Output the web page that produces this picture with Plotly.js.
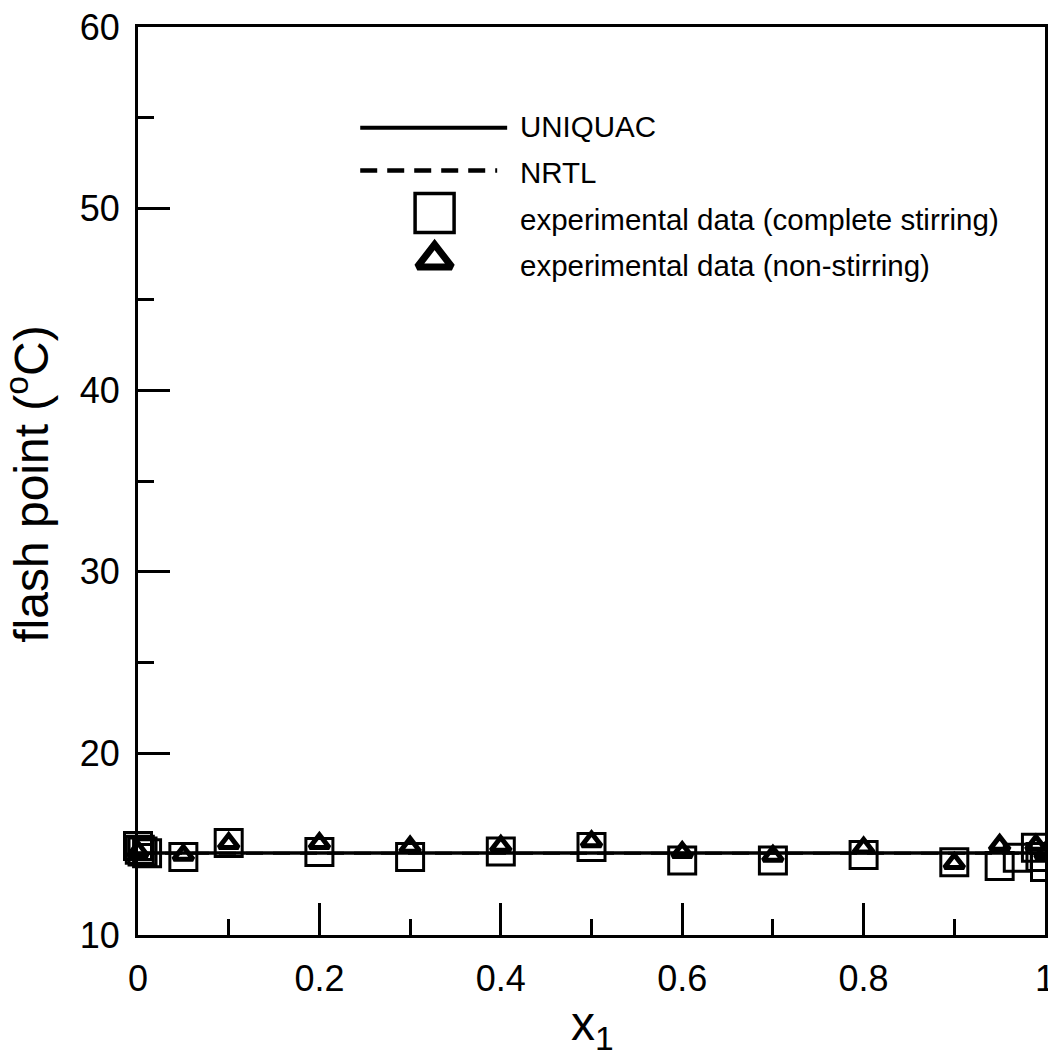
<!DOCTYPE html>
<html>
<head>
<meta charset="utf-8">
<script src="https://cdn.plot.ly/plotly-3.0.1.min.js"></script>
<style>
  html, body { margin: 0; padding: 0; background: #ffffff; }
  #chart { width: 1048px; height: 1052px; }
</style>
</head>
<body>
<div id="chart"></div>
<script>
// ---- data ----
const modelX = [0, 0.1, 0.2, 0.3, 0.4, 0.5, 0.6, 0.7, 0.8, 0.9, 1.0];
const uniquacY = [14.52, 14.52, 14.52, 14.52, 14.52, 14.52, 14.52, 14.52, 14.52, 14.52, 14.52];
const nrtlY    = [14.50, 14.50, 14.50, 14.50, 14.50, 14.50, 14.50, 14.50, 14.50, 14.50, 14.50];

const stirX = [0, 0.002, 0.005, 0.01, 0.05, 0.1, 0.2, 0.3, 0.4, 0.5, 0.6, 0.7, 0.8, 0.9, 0.95, 0.97, 0.99, 0.995, 1.0];
const stirY = [14.9, 14.7, 14.6, 14.5, 14.3, 15.07, 14.57, 14.3, 14.6, 14.85, 14.1, 14.1, 14.4, 14.0, 13.8, 14.25, 14.8, 14.3, 13.75];

const nonStirX = [0, 0.05, 0.1, 0.2, 0.3, 0.4, 0.5, 0.6, 0.7, 0.8, 0.9, 0.95, 0.99, 1.0];
const nonStirY = [14.6, 14.4, 15.05, 15.05, 14.85, 14.9, 15.15, 14.55, 14.35, 14.8, 13.95, 14.95, 14.95, 14.5];

const legendLabels = ["UNIQUAC", "NRTL", "experimental data (complete stirring)", "experimental data (non-stirring)"];
const xTitle = "x<sub>1</sub>";
const yTitle = "flash point (<sup>o</sup>C)";
const yTickVals = [10, 20, 30, 40, 50, 60];
const xTickVals = [0, 0.2, 0.4, 0.6, 0.8, 1];
const xTickText = ["0", "0.2", "0.4", "0.6", "0.8", "1"];

// legend sample positions (paper fractions of the plot area)
const legendLineX0 = 0.245, legendLineX1 = 0.407, legendDashX1 = 0.396;
const legendRowsY = [0.889, 0.842, 0.7952, 0.744];
const legendMarkerX = 0.327;
const legendTextX = 0.419;
const legendTextY = [0.8905, 0.8400, 0.7875, 0.7370];

const FONT = "Liberation Sans, Arial, Helvetica, sans-serif";

const traces = [
  { x: modelX, y: nrtlY, mode: "lines", line: { color: "#000", width: 3, dash: "17px,10px" }, showlegend: false, hoverinfo: "skip" },
  { x: modelX, y: uniquacY, mode: "lines", line: { color: "#000", width: 3.5 }, showlegend: false, hoverinfo: "skip" },
  { x: stirX, y: stirY, mode: "markers", cliponaxis: false,
    marker: { symbol: "square-open", size: 27, color: "#000", line: { width: 3, color: "#000" } }, showlegend: false },
  { x: nonStirX, y: nonStirY, mode: "markers", cliponaxis: false,
    marker: { symbol: "triangle-up-open", size: 17, color: "#000", line: { width: 5, color: "#000" } }, showlegend: false },
  // legend marker samples on an overlay axis measured in plot fractions
  { x: [legendMarkerX], y: [legendRowsY[2]], xaxis: "x2", yaxis: "y2", mode: "markers", cliponaxis: false,
    marker: { symbol: "square-open", size: 39, color: "#000", line: { width: 3.5, color: "#000" } }, showlegend: false, hoverinfo: "skip" },
  { x: [legendMarkerX], y: [legendRowsY[3]], xaxis: "x2", yaxis: "y2", mode: "markers", cliponaxis: false,
    marker: { symbol: "triangle-up-open", size: 30, color: "#000", line: { width: 7, color: "#000" } }, showlegend: false, hoverinfo: "skip" }
];

const shapes = [
  { type: "line", xref: "paper", yref: "paper", x0: legendLineX0, x1: legendLineX1, y0: legendRowsY[0], y1: legendRowsY[0],
    line: { color: "#000", width: 4 } },
  { type: "line", xref: "paper", yref: "paper", x0: legendLineX0, x1: legendDashX1, y0: legendRowsY[1], y1: legendRowsY[1],
    line: { color: "#000", width: 4.5, dash: "17px,10px" } }
];

const annotations = legendLabels.map((t, i) => ({
  text: t, xref: "paper", yref: "paper", x: legendTextX, y: legendTextY[i],
  xanchor: "left", yanchor: "middle", showarrow: false,
  font: { family: FONT, size: 29.5, color: "#000" }
}));
// axis titles placed as annotations for exact positioning
annotations.push({
  text: yTitle, xref: "paper", yref: "paper", x: -0.1215, y: 0.4967,
  xanchor: "center", yanchor: "middle", textangle: -90, showarrow: false,
  font: { family: FONT, size: 48, color: "#000" }
});
annotations.push({
  text: xTitle, xref: "paper", yref: "paper", x: 0.5008, y: -0.1013,
  xanchor: "center", yanchor: "middle", showarrow: false,
  font: { family: FONT, size: 48, color: "#000" }
});

const layout = {
  width: 1048, height: 1052,
  margin: { l: 138, r: 3, t: 27, b: 117, pad: 0 },
  paper_bgcolor: "#fff", plot_bgcolor: "#fff",
  font: { family: FONT, color: "#000" },
  showlegend: false,
  xaxis: {
    range: [0, 1], tickvals: xTickVals, ticktext: xTickText,
    ticks: "inside", ticklen: 32, tickwidth: 3, tickcolor: "#000",
    minor: { dtick: 0.1, ticks: "inside", ticklen: 16, tickwidth: 3, tickcolor: "#000" },
    showline: true, linewidth: 3, linecolor: "#000", mirror: true,
    showgrid: false, zeroline: false,
    tickfont: { family: FONT, size: 36, color: "#000" },
    ticklabelstandoff: 10, ticklabeloverflow: "allow"
  },
  yaxis: {
    range: [10, 60], tickvals: yTickVals,
    ticks: "inside", ticklen: 32, tickwidth: 3, tickcolor: "#000",
    minor: { dtick: 5, ticks: "inside", ticklen: 16, tickwidth: 3, tickcolor: "#000" },
    showline: true, linewidth: 3, linecolor: "#000", mirror: true,
    showgrid: false, zeroline: false,
    tickfont: { family: FONT, size: 36, color: "#000" },
    ticklabelstandoff: 8, ticklabeloverflow: "allow"
  },
  xaxis2: { overlaying: "x", range: [0, 1], visible: false, fixedrange: true },
  yaxis2: { overlaying: "y", range: [0, 1], visible: false, fixedrange: true },
  shapes: shapes,
  annotations: annotations
};

Plotly.newPlot("chart", traces, layout, { staticPlot: true, displayModeBar: false });
</script>
</body>
</html>
